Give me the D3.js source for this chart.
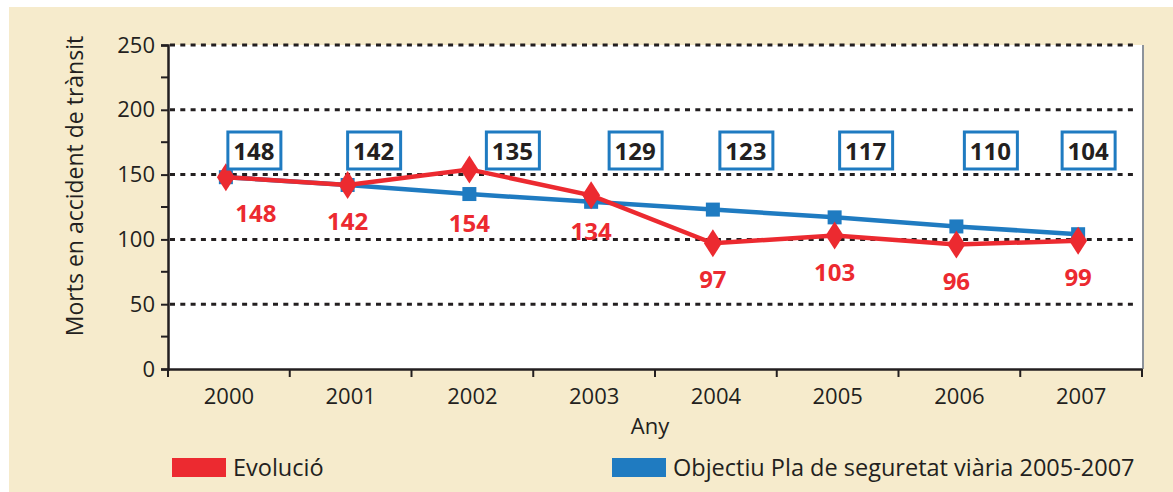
<!DOCTYPE html>
<html>
<head>
<meta charset="utf-8">
<script src="https://cdn.jsdelivr.net/npm/d3@7"></script>
<style>
  body { margin: 0; background: #fff; }
  text { font-family: "Open Sans", "Noto Sans", sans-serif; fill: #231f20; }
</style>
</head>
<body>
<div id="chart"></div>
<script>
// dades
const anys = ["2000", "2001", "2002", "2003", "2004", "2005", "2006", "2007"];
const evolucio = [148, 142, 154, 134, 97, 103, 96, 99];
const objectiu = [148, 142, 135, 129, 123, 117, 110, 104];
const yTicks = [0, 50, 100, 150, 200, 250];
const yMinor = [25, 75, 125, 175, 225];

const width = 1173;
const height = 492;

const vermell = "#ec2a30";
const blau = "#1f7bc1";

const svg = d3.select("#chart").append("svg")
    .attr("width", width)
    .attr("height", height);

// fons beix
svg.append("rect")
    .attr("x", 9).attr("y", 7)
    .attr("width", width - 9).attr("height", height - 7)
    .attr("fill", "#f6ebcc");

const x = d3.scaleBand().domain(anys).range([168, 1142]);
const y = d3.scaleLinear().domain([0, 250]).range([369, 45]);

// zona blanca del gràfic
svg.append("rect")
    .attr("x", 168).attr("y", y(250))
    .attr("width", 1142 - 168).attr("height", y(0) - y(250))
    .attr("fill", "#fff");
svg.append("line")
    .attr("x1", 1143).attr("x2", 1143)
    .attr("y1", y(250)).attr("y2", y(0))
    .attr("stroke", "#8d939b").attr("stroke-width", 2);

// línies de graella puntejades
svg.append("g").selectAll("line")
  .data(yTicks.filter(d => d > 0))
  .join("line")
    .attr("x1", 170).attr("x2", 1134)
    .attr("y1", d => y(d)).attr("y2", d => y(d))
    .attr("stroke", "#231f20")
    .attr("stroke-width", 3)
    .attr("stroke-dasharray", "5,5.3");

// eix Y
const yAxis = svg.append("g")
    .attr("transform", "translate(168,0)")
    .call(d3.axisLeft(y).tickValues(yTicks).tickSize(7).tickPadding(6));
yAxis.append("g").selectAll("line")
  .data(yMinor)
  .join("line")
    .attr("x1", -7).attr("x2", 0)
    .attr("y1", d => y(d)).attr("y2", d => y(d))
    .attr("stroke", "#231f20").attr("stroke-width", 2);
yAxis.select(".domain").attr("stroke", "#231f20").attr("stroke-width", 2.5);
yAxis.selectAll(".tick line").attr("stroke", "#231f20").attr("stroke-width", 2);
yAxis.selectAll(".tick text")
    .style("font-size", "22px")
    .style("font-family", "'Open Sans', sans-serif")
    .attr("fill", "#231f20");

// eix X
const xAxis = svg.append("g")
    .attr("transform", `translate(0,${y(0)})`)
    .call(d3.axisBottom(x).tickSize(0).tickPadding(19));
xAxis.select(".domain").attr("stroke", "#231f20").attr("stroke-width", 2.5);
xAxis.selectAll(".tick text")
    .style("font-size", "22px")
    .style("font-family", "'Open Sans', sans-serif")
    .attr("fill", "#231f20");
const vores = anys.map(d => x(d)).concat([x(anys[anys.length - 1]) + x.bandwidth()]);
xAxis.append("g").selectAll("line")
  .data(vores)
  .join("line")
    .attr("x1", d => d).attr("x2", d => d)
    .attr("y1", 0).attr("y2", 8)
    .attr("stroke", "#231f20").attr("stroke-width", 2);

// títols dels eixos
svg.append("text")
    .attr("transform", "translate(83,186) rotate(-90)")
    .attr("text-anchor", "middle")
    .style("font-size", "23px")
    .text("Morts en accident de trànsit");
svg.append("text")
    .attr("x", 650).attr("y", 434)
    .attr("text-anchor", "middle")
    .style("font-size", "22px")
    .text("Any");

const cx = d => x(d) + x.bandwidth() / 2 - 3;

// línia objectiu (blava)
const linia = d3.line().x((d, i) => cx(anys[i])).y(d => y(d));
svg.append("path")
    .datum(objectiu)
    .attr("d", linia)
    .attr("fill", "none")
    .attr("stroke", blau)
    .attr("stroke-width", 4.5);
svg.append("g").selectAll("rect")
  .data(objectiu)
  .join("rect")
    .attr("x", (d, i) => cx(anys[i]) - 7)
    .attr("y", d => y(d) - 7)
    .attr("width", 14).attr("height", 14)
    .attr("fill", blau);

// línia evolució (vermella)
svg.append("path")
    .datum(evolucio)
    .attr("d", linia)
    .attr("fill", "none")
    .attr("stroke", vermell)
    .attr("stroke-width", 4.5);
svg.append("g").selectAll("path")
  .data(evolucio)
  .join("path")
    .attr("transform", (d, i) => `translate(${cx(anys[i])},${y(d)})`)
    .attr("d", "M0,-14L9,0L0,14L-9,0Z")
    .attr("fill", vermell);

// etiquetes vermelles
svg.append("g").selectAll("text")
  .data(evolucio)
  .join("text")
    .attr("x", (d, i) => cx(anys[i]) + (i === 0 ? 30 : 0))
    .attr("y", (d, i) => y(d) + (i === 2 ? 54 : 36) + 9)
    .attr("text-anchor", "middle")
    .style("font-size", "24px")
    .style("font-weight", "bold")
    .style("fill", vermell)
    .text(d => d);

// etiquetes en caixa (objectiu)
const desp = [28, 26, 43, 44, 33, 31, 34, 10];
const caixes = svg.append("g").selectAll("g")
  .data(objectiu)
  .join("g")
    .attr("transform", (d, i) => `translate(${cx(anys[i]) + desp[i]},151)`);
caixes.append("rect")
    .attr("x", -26).attr("y", -19)
    .attr("width", 53).attr("height", 37)
    .attr("fill", "#fff")
    .attr("stroke", blau)
    .attr("stroke-width", 3);
caixes.append("text")
    .attr("text-anchor", "middle")
    .attr("y", 9)
    .style("font-size", "24px")
    .style("font-weight", "bold")
    .text(d => d);

// llegenda
const llegenda = [
  { nom: "Evolució", color: vermell, x: 172 },
  { nom: "Objectiu Pla de seguretat viària 2005-2007", color: blau, x: 612 }
];
const lg = svg.append("g").selectAll("g")
  .data(llegenda)
  .join("g")
    .attr("transform", d => `translate(${d.x},458)`);
lg.append("rect")
    .attr("width", 54).attr("height", 19)
    .attr("fill", d => d.color);
lg.append("text")
    .attr("x", 61).attr("y", 18)
    .style("font-size", "23.5px")
    .text(d => d.nom);
</script>
</body>
</html>
